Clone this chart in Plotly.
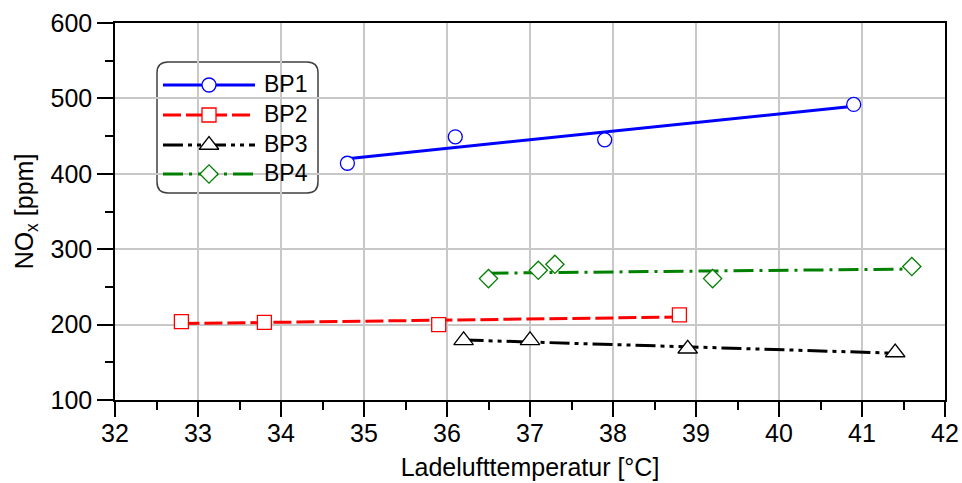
import numpy as np
import plotly.graph_objects as go

# Measured operating points: charge-air temperature [°C] vs. NOx [ppm]
bp1_t = [34.8, 36.1, 37.9, 40.9]
bp1_nox = [414, 449, 445, 492]

bp2_t = [32.8, 33.8, 35.9, 38.8]
bp2_nox = [204, 203, 200, 213]

bp3_t = [36.2, 37.0, 38.9, 41.4]
bp3_nox = [179, 179, 168, 163]

bp4_t = [36.5, 37.1, 37.3, 39.2, 41.6]
bp4_nox = [261, 272, 280, 261, 277]

series_names = ["BP1", "BP2", "BP3", "BP4"]

styles = [
    dict(color="#0000ff", dash="solid", symbol="circle", size=14),
    dict(color="#ff0000", dash="18px,5px", symbol="square", size=14),
    dict(color="#000000", dash="20px,5px,4px,5px,4px,5px", symbol="triangle-up", size=17),
    dict(color="#008000", dash="20px,6px,3px,6px", symbol="diamond", size=14),
]

data = [(bp1_t, bp1_nox), (bp2_t, bp2_nox), (bp3_t, bp3_nox), (bp4_t, bp4_nox)]

fig = go.Figure()

# Linear regression line of each operating point
for name, (t, nox), st in zip(series_names, data, styles):
    k, d = np.polyfit(t, nox, 1)
    xs = np.array([min(t), max(t)])
    fig.add_trace(go.Scatter(
        x=xs, y=k * xs + d, mode="lines",
        line=dict(color=st["color"], width=3, dash=st["dash"]),
        showlegend=False, hoverinfo="skip",
    ))

# Measured points on top of the lines
for name, (t, nox), st in zip(series_names, data, styles):
    fig.add_trace(go.Scatter(
        x=t, y=nox, mode="markers", name=name,
        marker=dict(symbol=st["symbol"], size=st["size"], color="white",
                    line=dict(color=st["color"], width=1.3)),
        showlegend=False,
    ))

# Legend drawn on an overlay axis measured in pixels of the plot area
PX_L, PX_R, PX_T, PX_B = 115, 945, 23, 400
leg_x0, leg_x1, leg_y0, leg_y1, rad = 157, 318, 62, 193, 11
row_y = [85, 115, 145, 174]
sample_x = [163, 255]
marker_x = 209
text_x = 262


def to_paper_x(p):
    return (p - PX_L) / (PX_R - PX_L)


def to_paper_y(p):
    return (PX_B - p) / (PX_B - PX_T)


def pt(xp, yp):
    return f"{to_paper_x(xp):.5f},{to_paper_y(yp):.5f}"


rounded = (
    f"M {pt(leg_x0 + rad, leg_y0)} L {pt(leg_x1 - rad, leg_y0)} "
    f"Q {pt(leg_x1, leg_y0)} {pt(leg_x1, leg_y0 + rad)} "
    f"L {pt(leg_x1, leg_y1 - rad)} Q {pt(leg_x1, leg_y1)} {pt(leg_x1 - rad, leg_y1)} "
    f"L {pt(leg_x0 + rad, leg_y1)} Q {pt(leg_x0, leg_y1)} {pt(leg_x0, leg_y1 - rad)} "
    f"L {pt(leg_x0, leg_y0 + rad)} Q {pt(leg_x0, leg_y0)} {pt(leg_x0 + rad, leg_y0)} Z"
)
fig.add_shape(type="path", xref="paper", yref="paper", path=rounded,
              line=dict(color="#404040", width=1.5), fillcolor="white", layer="between")

for name, st, ry in zip(series_names, styles, row_y):
    fig.add_trace(go.Scatter(
        x=sample_x, y=[ry, ry], xaxis="x2", yaxis="y2", mode="lines",
        line=dict(color=st["color"], width=3, dash=st["dash"]),
        showlegend=False, hoverinfo="skip",
    ))
    fig.add_trace(go.Scatter(
        x=[marker_x], y=[ry], xaxis="x2", yaxis="y2", mode="markers",
        marker=dict(symbol=st["symbol"], size=st["size"], color="white",
                    line=dict(color=st["color"], width=1.3)),
        showlegend=False, hoverinfo="skip",
    ))
    fig.add_annotation(
        x=text_x, y=ry - 1, xref="x2", yref="y2", text=name, showarrow=False,
        xanchor="left", yanchor="middle", font=dict(size=23, color="black"),
    )

font = "Arial, Liberation Sans, sans-serif"

fig.update_layout(
    width=962, height=483,
    margin=dict(l=PX_L, r=962 - PX_R, t=PX_T, b=483 - PX_B),
    paper_bgcolor="white", plot_bgcolor="white",
    font=dict(family=font, size=25, color="black"),
    showlegend=False,
    xaxis=dict(
        range=[32, 42], dtick=1, tick0=32, automargin=False,
        showgrid=True, gridcolor="#c8c8c8", gridwidth=1.5,
        showline=True, linecolor="black", linewidth=1.5, mirror=True,
        ticks="outside", ticklen=15, tickwidth=1.5, tickcolor="black",
        minor=dict(dtick=0.5, ticklen=8, tickwidth=1.5, tickcolor="black", ticks="outside", showgrid=False),
        zeroline=False, ticklabelstandoff=-5,
        title=dict(text="Ladelufttemperatur [°C]", standoff=13, font=dict(size=25)),
        tickfont=dict(size=25),
    ),
    yaxis=dict(
        range=[100, 600], dtick=100, tick0=100, automargin=False,
        showgrid=True, gridcolor="#c8c8c8", gridwidth=1.5,
        showline=True, linecolor="black", linewidth=1.5, mirror=True,
        ticks="outside", ticklen=16, tickwidth=1.5, tickcolor="black",
        minor=dict(dtick=50, ticklen=8, tickwidth=1.5, tickcolor="black", ticks="outside", showgrid=False),
        zeroline=False,
        title=dict(text="NO<sub>x</sub> [ppm]", standoff=10, font=dict(size=25)),
        tickfont=dict(size=25),
    ),
    xaxis2=dict(range=[PX_L, PX_R], overlaying="x", visible=False, fixedrange=True),
    yaxis2=dict(range=[PX_B, PX_T], overlaying="y", visible=False, fixedrange=True),
)

fig.write_html("out.html")
